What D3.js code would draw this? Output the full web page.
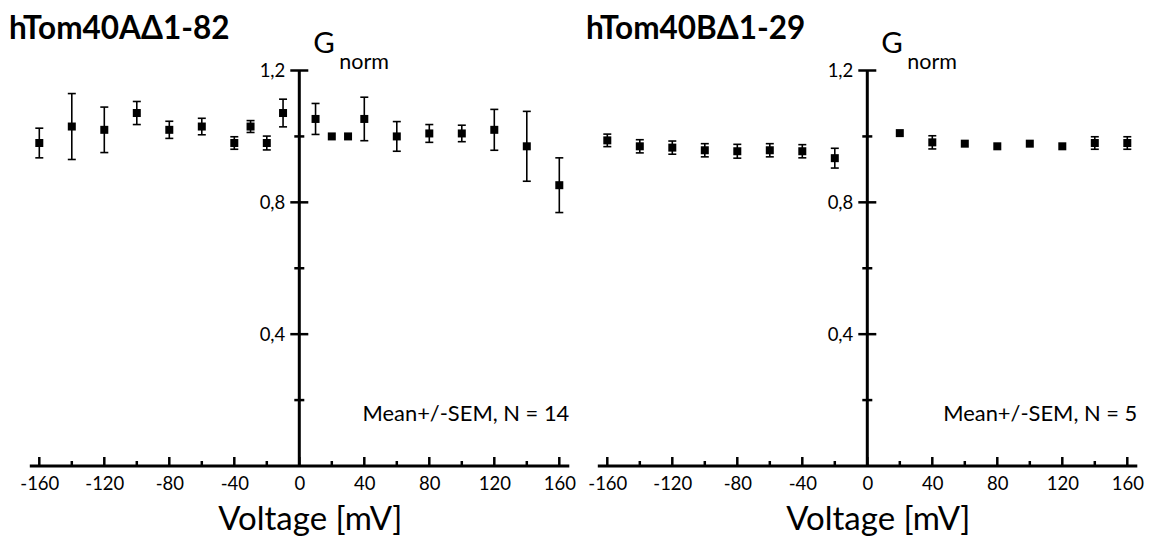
<!DOCTYPE html>
<html><head><meta charset="utf-8">
<script src="https://cdn.jsdelivr.net/npm/d3@7"></script>
<style>body{margin:0;background:#fff}svg{display:block}text{font-family:Lato,"Open Sans",sans-serif;fill:#000}</style>
</head><body>
<svg id="c" width="1149" height="537"></svg>
<script>
// ---- data ----
const titleA = "hTom40A\u03941-82";
const titleB = "hTom40B\u03941-29";
const noteA = "Mean+/-SEM, N = 14";
const noteB = "Mean+/-SEM, N = 5";
const voltsA = [-160,-140,-120,-100,-80,-60,-40,-30,-20,-10,10,20,30,40,60,80,100,120,140,160];
const gA     = [0.980,1.030,1.020,1.071,1.020,1.030,0.980,1.030,0.980,1.071,1.053,1.000,1.000,1.053,1.000,1.009,1.009,1.020,0.970,0.852];
const semA   = [0.045,0.100,0.069,0.035,0.026,0.025,0.019,0.018,0.021,0.042,0.047,0,0,0.066,0.045,0.027,0.025,0.062,0.106,0.083];
const voltsB = [-160,-140,-120,-100,-80,-60,-40,-20,20,40,60,80,100,120,140,160];
const gB     = [0.988,0.970,0.966,0.958,0.955,0.958,0.955,0.934,1.010,0.982,0.978,0.970,0.978,0.970,0.980,0.980];
const semB   = [0.019,0.020,0.020,0.020,0.021,0.020,0.020,0.030,0,0.020,0,0,0,0,0.019,0.019];
const xMajorTicks = [-160,-120,-80,-40,0,40,80,120,160];
const xMinorTicks = [-140,-100,-60,-20,20,60,100,140];
const yMajorTicks = [0.4,0.8,1.2];
const yMinorTicks = [0.2,0.6,1.0];
const xLabel = "Voltage [mV]";
const yLabelMain = "G";
const yLabelSub = "norm";

// ---- drawing ----
const svg = d3.select("#c");
const y = d3.scaleLinear().domain([0,1.2]).range([466,70.5]);
const fmt = d => d3.format(".1f")(d).replace(".", ",");

function panel(opts){
  const {volts, g, sem, title, note, x0, x1, titleX} = opts;
  const x = d3.scaleLinear().domain([-160,160]).range([x0,x1]);
  const gp = svg.append("g");
  const ax = x(0), ay = y(0);

  // x axis line
  gp.append("line").attr("x1", x0-9.5).attr("x2", x1+10).attr("y1", ay).attr("y2", ay)
    .attr("stroke","#000").attr("stroke-width",3);
  gp.selectAll(".xM").data(xMajorTicks).join("line")
    .attr("x1", d=>x(d)).attr("x2", d=>x(d)).attr("y1", ay).attr("y2", ay-9)
    .attr("stroke","#000").attr("stroke-width",2.5);
  gp.selectAll(".xm").data(xMinorTicks).join("line")
    .attr("x1", d=>x(d)).attr("x2", d=>x(d)).attr("y1", ay).attr("y2", ay-5)
    .attr("stroke","#000").attr("stroke-width",2.5);
  const xa = d3.axisBottom(x).tickValues(xMajorTicks).tickSize(0).tickPadding(11).tickFormat(d => String(d));
  const xg = gp.append("g").attr("transform",`translate(0,${ay})`).call(xa);
  xg.select(".domain").remove();
  xg.attr("font-size",null).attr("font-family",null);
  xg.selectAll("text").attr("font-size",18.5);

  // y axis line
  gp.append("line").attr("x1", ax).attr("x2", ax).attr("y1", y(0)).attr("y2", y(1.2))
    .attr("stroke","#000").attr("stroke-width",3);
  gp.selectAll(".yM").data(yMajorTicks).join("line")
    .attr("x1", ax-9).attr("x2", ax+9).attr("y1", d=>y(d)).attr("y2", d=>y(d))
    .attr("stroke","#000").attr("stroke-width",2.5);
  gp.selectAll(".ym").data(yMinorTicks).join("line")
    .attr("x1", ax-5).attr("x2", ax+5).attr("y1", d=>y(d)).attr("y2", d=>y(d))
    .attr("stroke","#000").attr("stroke-width",2.5);
  const ya = d3.axisLeft(y).tickValues(yMajorTicks).tickSize(0).tickPadding(14).tickFormat(fmt);
  const yg = gp.append("g").attr("transform",`translate(${ax},0)`).call(ya);
  yg.select(".domain").remove();
  yg.attr("font-size",null).attr("font-family",null);
  yg.selectAll("text").attr("font-size",18.5);

  // error bars
  const pts = volts.map((v,i)=>({v, g:g[i], s:sem[i]}));
  const eb = gp.selectAll(".eb").data(pts.filter(p=>p.s>0)).join("g");
  eb.append("line").attr("x1",p=>x(p.v)).attr("x2",p=>x(p.v))
    .attr("y1",p=>y(p.g+p.s)).attr("y2",p=>y(p.g-p.s)).attr("stroke","#000").attr("stroke-width",1.6);
  eb.append("line").attr("x1",p=>x(p.v)-4).attr("x2",p=>x(p.v)+4)
    .attr("y1",p=>y(p.g+p.s)).attr("y2",p=>y(p.g+p.s)).attr("stroke","#000").attr("stroke-width",1.6);
  eb.append("line").attr("x1",p=>x(p.v)-4).attr("x2",p=>x(p.v)+4)
    .attr("y1",p=>y(p.g-p.s)).attr("y2",p=>y(p.g-p.s)).attr("stroke","#000").attr("stroke-width",1.6);
  // squares
  gp.selectAll(".pt").data(pts).join("rect")
    .attr("x",p=>x(p.v)-4).attr("y",p=>y(p.g)-4).attr("width",8).attr("height",8).attr("fill","#000");

  // labels
  gp.append("text").attr("x",titleX).attr("y",39).attr("font-size",31.5).attr("font-weight","bold").text(title);
  const gl = gp.append("text").attr("x",ax+14).attr("y",52.5).attr("font-size",29.5);
  gl.append("tspan").text(yLabelMain);
  gl.append("tspan").attr("x",ax+40).attr("y",69).attr("font-size",21.5).text(yLabelSub);
  gp.append("text").attr("x",x1+10).attr("y",421).attr("text-anchor","end").attr("font-size",21.9).text(note);
  gp.append("text").attr("x",ax+11).attr("y",530).attr("text-anchor","middle").attr("font-size",33).text(xLabel);
}

panel({volts:voltsA, g:gA, sem:semA, title:titleA, note:noteA, x0:39.3, x1:559.3, titleX:9});
panel({volts:voltsB, g:gB, sem:semB, title:titleB, note:noteB, x0:607.3, x1:1127.3, titleX:586});
</script>
</body></html>
